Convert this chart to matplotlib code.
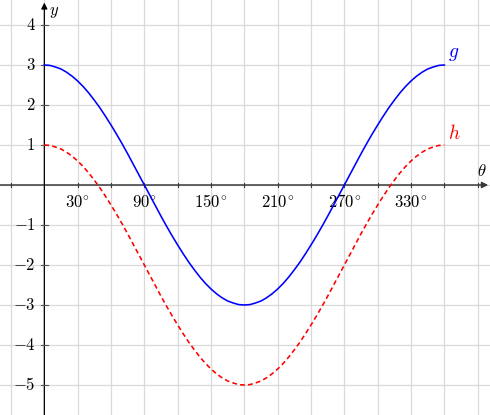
import matplotlib
matplotlib.use("Agg")
import matplotlib.pyplot as plt

plt.rcParams["mathtext.fontset"] = "cm"
plt.rcParams["font.family"] = "serif"
plt.rcParams["font.serif"] = ["DejaVu Serif"]

# ── Data (every 5°) ─────────────────────────────────────────────────────────
theta = list(range(0, 361, 5))
g_vals = [3.00, 2.99, 2.95, 2.90, 2.82, 2.72, 2.60, 2.46, 2.30, 2.12, 1.93,
          1.72, 1.50, 1.27, 1.03, 0.78, 0.52, 0.26, 0.00,
          -0.26, -0.52, -0.78, -1.03, -1.27, -1.50, -1.72, -1.93, -2.12,
          -2.30, -2.46, -2.60, -2.72, -2.82, -2.90, -2.95, -2.99, -3.00,
          -2.99, -2.95, -2.90, -2.82, -2.72, -2.60, -2.46, -2.30, -2.12,
          -1.93, -1.72, -1.50, -1.27, -1.03, -0.78, -0.52, -0.26, 0.00,
          0.26, 0.52, 0.78, 1.03, 1.27, 1.50, 1.72, 1.93, 2.12, 2.30, 2.46,
          2.60, 2.72, 2.82, 2.90, 2.95, 2.99, 3.00]
h_vals = [1.00, 0.99, 0.95, 0.90, 0.82, 0.72, 0.60, 0.46, 0.30, 0.12, -0.07,
          -0.28, -0.50, -0.73, -0.97, -1.22, -1.48, -1.74, -2.00,
          -2.26, -2.52, -2.78, -3.03, -3.27, -3.50, -3.72, -3.93, -4.12,
          -4.30, -4.46, -4.60, -4.72, -4.82, -4.90, -4.95, -4.99, -5.00,
          -4.99, -4.95, -4.90, -4.82, -4.72, -4.60, -4.46, -4.30, -4.12,
          -3.93, -3.72, -3.50, -3.27, -3.03, -2.78, -2.52, -2.26, -2.00,
          -1.74, -1.48, -1.22, -0.97, -0.73, -0.50, -0.28, -0.07, 0.12,
          0.30, 0.46, 0.60, 0.72, 0.82, 0.90, 0.95, 0.99, 1.00]

x_ticks = [-30, 0, 30, 60, 90, 120, 150, 180, 210, 240, 270, 300, 330, 360, 390]
x_labels = [30, 90, 150, 210, 270, 330]
y_ticks = [-5, -4, -3, -2, -1, 1, 2, 3, 4]

fig = plt.figure(figsize=(4.9, 4.15), dpi=100)
ax = fig.add_axes([0, 0, 1, 1])
ax.set_xlim(-39.9, 401.1)
ax.set_ylim(-5.75, 4.625)
ax.axis("off")

# grid
for xv in x_ticks:
    ax.axvline(xv, color="#d9d9d9", lw=0.9, zorder=0)
for yv in range(-5, 5):
    ax.axhline(yv, color="#d9d9d9", lw=0.9, zorder=0)

# axes through origin
ax.annotate("", xy=(399.5, 0), xytext=(-40, 0),
            arrowprops=dict(arrowstyle="-|>", color="#3a3a3a", lw=1.1,
                            mutation_scale=9, shrinkA=0, shrinkB=0), zorder=3)
ax.annotate("", xy=(0, 4.56), xytext=(0, -5.8),
            arrowprops=dict(arrowstyle="-|>", color="black", lw=0.9,
                            mutation_scale=9, shrinkA=0, shrinkB=0), zorder=3)

# tick marks
for xv in x_ticks:
    if xv != 0:
        ax.plot([xv, xv], [-0.06, 0.06], color="#3a3a3a", lw=0.8, zorder=3)
for yv in y_ticks:
    ax.plot([-3.2, 3.2], [yv, yv], color="#555555", lw=0.8, zorder=3)

for xv in x_labels:
    ax.text(xv, -0.22, rf"${xv}^{{\!\circ}}$", ha="center", va="top",
            fontsize=12)
for yv in y_ticks:
    ax.text(-8, yv, rf"${yv}$", ha="right", va="center", fontsize=12)

# curves
ax.plot(theta, g_vals, color="blue", lw=1.15, zorder=4,
        solid_joinstyle="round")
ax.plot(theta, h_vals, color="red", lw=1.15, linestyle=(0, (3, 2)), zorder=4)

ax.text(363, 3.05, r"$g$", color="blue", fontsize=14, ha="left", va="bottom")
ax.text(363, 1.05, r"$h$", color="red", fontsize=14, ha="left", va="bottom")
ax.text(398, 0.12, r"$\theta$", fontsize=12, ha="right", va="bottom")
ax.text(4, 4.55, r"$y$", fontsize=12, ha="left", va="top")

fig.savefig("out.png", dpi=100)
